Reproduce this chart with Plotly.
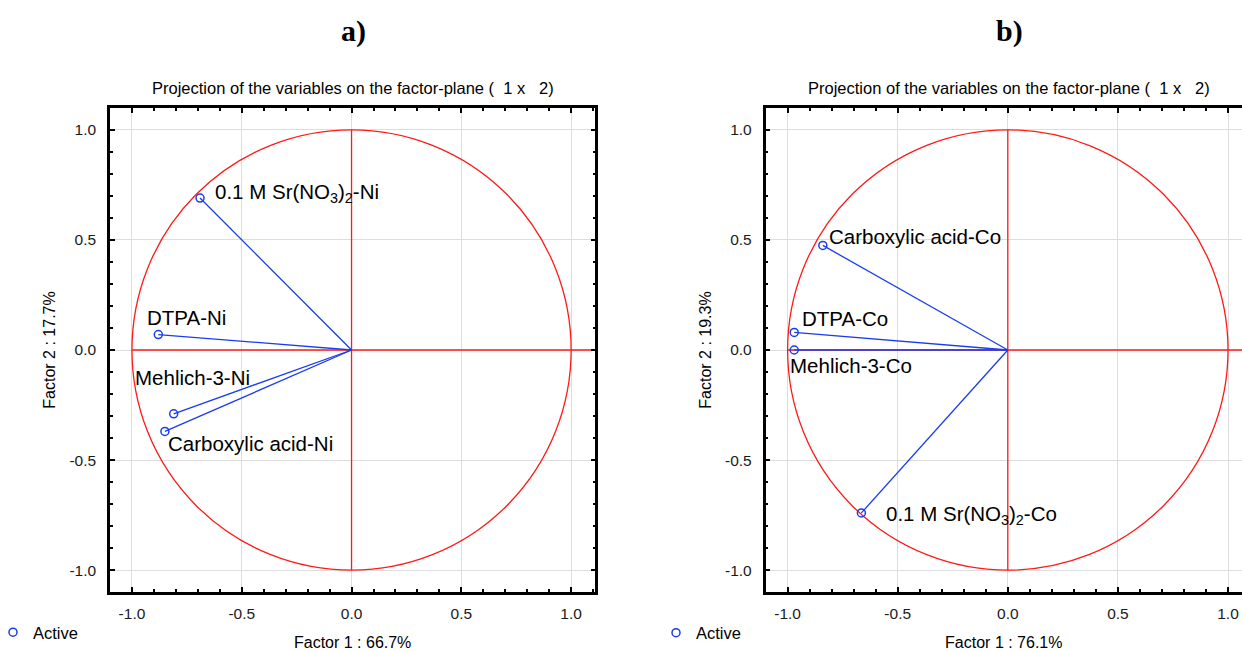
import plotly.graph_objects as go

# ---------------- data ----------------
ni_names = ["0.1 M Sr(NO<sub>3</sub>)<sub>2</sub>-Ni", "DTPA-Ni", "Mehlich-3-Ni", "Carboxylic acid-Ni"]
ni_factor1 = [-0.69, -0.88, -0.81, -0.85]
ni_factor2 = [0.69, 0.07, -0.29, -0.37]

co_names = ["Carboxylic acid-Co", "DTPA-Co", "Mehlich-3-Co", "0.1 M Sr(NO<sub>3</sub>)<sub>2</sub>-Co"]
co_factor1 = [-0.84, -0.97, -0.97, -0.665]
co_factor2 = [0.475, 0.08, 0.0, -0.74]

panel_tags = ["a)", "b)"]
factor1_pct = [66.7, 76.1]
factor2_pct = [17.7, 19.3]
plot_title = "Projection of the variables on the factor-plane (  1 x   2)"
legend_label = "Active"
tick_vals = [-1.0, -0.5, 0.0, 0.5, 1.0]
tick_text = ["-1.0", "-0.5", "0.0", "0.5", "1.0"]

# ---------------- style ----------------
W, H = 1242, 651
FONT = "Liberation Sans, Arial, Helvetica, sans-serif"
BLUE = "#1a3cf0"
RED = "#ff1a1a"


def fx(p):
    return p / W


def fy(p):
    return 1 - p / H


panels = [
    dict(names=ni_names, f1=ni_factor1, f2=ni_factor2, xa="x", ya="y",
         xdomain=[fx(110), fx(595.3)], xrange=[-1.1, 1.11],
         shifts=[(13, 5), (-13, 17), (-41, 36), (1, -12)],
         mirror_y="allticks", ystand=10, legend="legend", cx=353),
    dict(names=co_names, f1=co_factor1, f2=co_factor2, xa="x2", ya="y2",
         xdomain=[fx(765.6), 1.0], xrange=[-1.1, 1.0635],
         shifts=[(4, 9), (6, 14), (-6, -16), (23, -2)],
         mirror_y=False, ystand=10, legend="legend2", cx=1009),
]

ydomain = [fy(592.2), fy(107.8)]

fig = go.Figure()
annotations = []
shapes = []

for i, p in enumerate(panels):
    # vectors from origin
    vx, vy = [], []
    for a, b in zip(p["f1"], p["f2"]):
        vx += [0, a, None]
        vy += [0, b, None]
    fig.add_trace(go.Scatter(x=vx, y=vy, mode="lines", xaxis=p["xa"], yaxis=p["ya"],
                             line=dict(color=BLUE, width=1.3), showlegend=False,
                             hoverinfo="skip"))
    fig.add_trace(go.Scatter(x=p["f1"], y=p["f2"], mode="markers", xaxis=p["xa"], yaxis=p["ya"],
                             name=legend_label, legend=p["legend"],
                             marker=dict(symbol="circle-open", size=8, color=BLUE,
                                         line=dict(width=1.5, color=BLUE))))
    # labels
    for name, a, b, (sx, sy) in zip(p["names"], p["f1"], p["f2"], p["shifts"]):
        annotations.append(dict(text=name, x=a, y=b, xref=p["xa"], yref=p["ya"],
                                showarrow=False, xanchor="left", yanchor="middle",
                                xshift=sx, yshift=sy,
                                font=dict(family=FONT, size=20.5, color="black")))
    # unit circle and reference lines
    shapes.append(dict(type="circle", xref=p["xa"], yref=p["ya"], x0=-1, x1=1, y0=-1, y1=1,
                       line=dict(color=RED, width=1.3), layer="between"))
    shapes.append(dict(type="line", xref=p["xa"], yref=p["ya"], x0=-1, x1=p["xrange"][1], y0=0, y1=0,
                       line=dict(color=RED, width=1.3), layer="between"))
    shapes.append(dict(type="line", xref=p["xa"], yref=p["ya"], x0=0, x1=0, y0=-1, y1=1,
                       line=dict(color=RED, width=1.3), layer="between"))
    # panel tag and subtitle
    annotations.append(dict(text="<b>%s</b>" % panel_tags[i], x=fx(p["cx"]), y=fy(31),
                            xref="paper", yref="paper", showarrow=False,
                            xanchor="center", yanchor="middle",
                            font=dict(family="Liberation Serif, Times New Roman, serif", size=30,
                                      color="black")))
    annotations.append(dict(text=plot_title, x=fx(p["cx"]), y=fy(88),
                            xref="paper", yref="paper", showarrow=False,
                            xanchor="center", yanchor="middle",
                            font=dict(family=FONT, size=16.5, color="black")))

axis_base = dict(
    showgrid=True, gridcolor="#dddddd", gridwidth=1.2, zeroline=False,
    showline=True, linecolor="black", linewidth=2.5,
    ticks="inside", ticklen=5, tickwidth=2, tickcolor="black",
    tickmode="array", tickvals=tick_vals, ticktext=tick_text,
    minor=dict(tickmode="linear", tick0=0, dtick=0.1, ticks="inside", ticklen=3,
               tickwidth=1.5, tickcolor="black", showgrid=False),
    tickfont=dict(family=FONT, size=15.5, color="#1a1a1a"),
    title_font=dict(family=FONT, size=16, color="black"),
)

for i, p in enumerate(panels):
    sfx = "" if i == 0 else "2"
    fig.layout["xaxis" + sfx] = dict(axis_base, domain=p["xdomain"], range=p["xrange"],
                                     anchor="y" + sfx, mirror="allticks", ticklabelstandoff=5,
                                     title=dict(text="Factor 1 : %.1f%%" % factor1_pct[i], standoff=23))
    fig.layout["yaxis" + sfx] = dict(axis_base, domain=ydomain, range=[-1.1, 1.1],
                                     anchor="x" + sfx, mirror=p["mirror_y"], ticklabelstandoff=8,
                                     title=dict(text="Factor 2 : %.1f%%" % factor2_pct[i],
                                                standoff=p["ystand"]))

legend_style = dict(xanchor="left", yanchor="middle", bgcolor="rgba(0,0,0,0)",
                    font=dict(family=FONT, size=16.5, color="black"), borderwidth=0)
fig.update_layout(
    width=W, height=H, autosize=False,
    margin=dict(l=0, r=0, t=0, b=0, autoexpand=False),
    paper_bgcolor="white", plot_bgcolor="white",
    font=dict(family=FONT, color="black"),
    annotations=annotations, shapes=shapes,
    legend=dict(legend_style, x=fx(-7), y=fy(632.5)),
    legend2=dict(legend_style, x=fx(656), y=fy(633)),
    showlegend=True,
)

fig.write_html("out.html", config={"displayModeBar": False},
               post_script="document.body.style.margin='0';")
